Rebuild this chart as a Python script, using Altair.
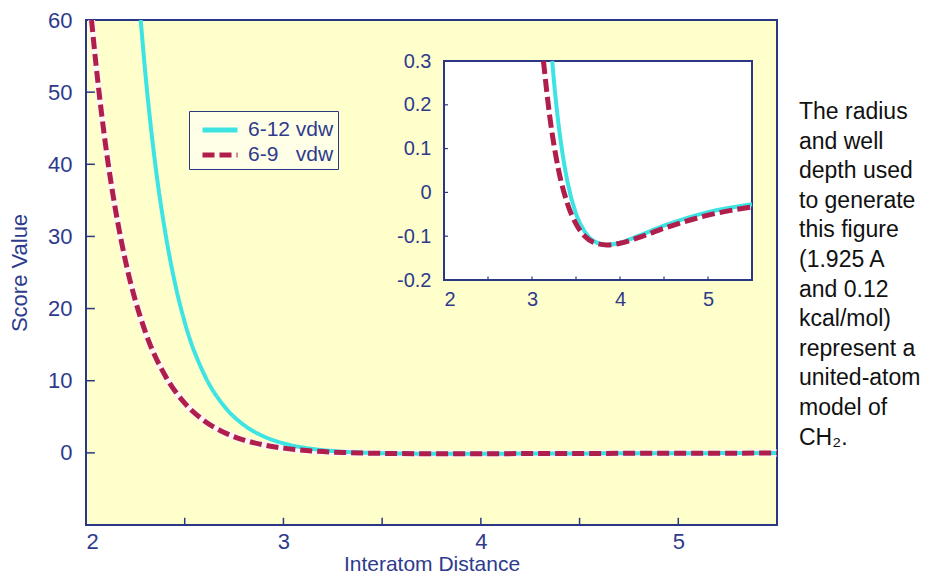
import altair as alt
import pandas as pd

# ---------------- data ----------------
series_names = ["6-12 vdw", "6-9\u00a0\u00a0\u00a0vdw"]

r_612 = [2.277, 2.3, 2.35, 2.4, 2.45, 2.5, 2.6, 2.7, 2.8, 2.9, 3.0, 3.1, 3.2, 3.23,
         3.25, 3.3, 3.4, 3.5, 3.6, 3.7, 3.85, 4.0, 4.2, 4.5, 5.0, 5.5]
e_612 = [60, 52.8, 40.2, 30.8, 23.6, 18.1, 10.8, 6.46, 3.86, 2.28, 1.32, 0.73, 0.376, 0.30,
         0.253, 0.158, 0.027, -0.049, -0.090, -0.111, -0.120, -0.115, -0.100, -0.076, -0.045, -0.027]

r_69 = [2.028, 2.05, 2.1, 2.15, 2.2, 2.3, 2.4, 2.5, 2.6, 2.7, 2.8, 2.9, 3.0, 3.13,
        3.2, 3.3, 3.4, 3.5, 3.6, 3.7, 3.85, 4.0, 4.2, 4.5, 5.0, 5.5]
e_69 = [60, 54.0, 42.5, 33.6, 26.6, 16.8, 10.75, 6.89, 4.42, 2.82, 1.78, 1.10, 0.658, 0.30,
        0.176, 0.053, -0.024, -0.072, -0.100, -0.114, -0.120, -0.116, -0.104, -0.082, -0.052, -0.033]

main_x_domain = [2, 5.5]
main_y_domain = [-10, 60]
main_x_labels = [2, 3, 4, 5]
main_y_labels = [0, 10, 20, 30, 40, 50, 60]
main_x_ticks = [2.5, 3, 3.5, 4, 4.5, 5]
main_y_ticks = [0, 10, 20, 30, 40, 50]

inset_x_domain = [2, 5.5]
inset_y_domain = [-0.2, 0.3]
inset_x_labels = [2, 3, 4, 5]
inset_y_labels = [-0.2, -0.1, 0, 0.1, 0.2, 0.3]
inset_x_ticks = [2.5, 3, 3.5, 4, 4.5, 5]
inset_y_ticks = [-0.1, 0, 0.1, 0.2]

side_note_lines = ["The radius", "and well", "depth used", "to generate", "this figure",
                   "(1.925 A", "and 0.12", "kcal/mol)", "represent a", "united-atom",
                   "model of", "CH\u2082."]

# ---------------- styles ----------------
navy = "#2A3784"
label_color = "#2E3B8C"
bg = "#FFFFCC"
cyan = "#3EE3E3"
maroon = "#B01E4C"
FONT = "Arial"

W, H = 691, 505
inset_x_range = [358, 666]
inset_y_range = [260, 41]

df = pd.DataFrame({
    "r": r_612 + r_69,
    "e": e_612 + e_69,
    "series": [series_names[0]] * len(r_612) + [series_names[1]] * len(r_69),
})

# ---------------- main panel ----------------
main_xs = alt.Scale(domain=main_x_domain, nice=False, zero=False)
main_ys = alt.Scale(domain=main_y_domain, nice=False, zero=False)

main_x_axis = alt.Axis(values=main_x_labels, title="Interatom Distance", ticks=False, domain=False,
                       grid=False, labelFontSize=22, labelColor=label_color, labelFont=FONT,
                       labelPadding=6, titleFontSize=21, titleFontWeight="normal",
                       titleColor=label_color, titleFont=FONT, titlePadding=1, format="d")
main_y_axis = alt.Axis(values=main_y_labels, title="Score Value", ticks=False, domain=False,
                       grid=False, labelFontSize=22, labelColor=label_color, labelFont=FONT,
                       labelPadding=14, titleFontSize=22, titleFontWeight="normal",
                       titleColor=label_color, titleFont=FONT, titlePadding=16, format="d")

MX = alt.X("r:Q", scale=main_xs, axis=main_x_axis)
MY = alt.Y("e:Q", scale=main_ys, axis=main_y_axis)

legend = alt.Legend(title=None, orient="none", legendX=103, legendY=91, fillColor="#FFFFE8",
                    strokeColor=navy, padding=4, labelFontSize=21, labelColor=label_color,
                    labelFont=FONT, symbolType="M-1.4,0L1.4,0", symbolSize=625, symbolStrokeWidth=5,
                    symbolOffset=12, rowPadding=0, labelOffset=13)
COLOR = alt.Color("series:N", scale=alt.Scale(domain=series_names, range=[cyan, maroon]), legend=legend)
DASH = alt.StrokeDash("series:N", scale=alt.Scale(domain=series_names, range=[[1, 0], [12, 5]]), legend=legend)

base = alt.Chart(df)

main_under = base.transform_filter(alt.datum.series == series_names[1]).mark_line(
    color="#FFF4F4", strokeWidth=7, interpolate="monotone", clip=True).encode(x=MX, y=MY)
main_cyan = base.transform_filter(alt.datum.series == series_names[0]).mark_line(
    strokeWidth=4, interpolate="monotone", clip=True).encode(x=MX, y=MY, color=COLOR, strokeDash=DASH)
main_dash = base.transform_filter(alt.datum.series == series_names[1]).mark_line(
    strokeWidth=5, interpolate="monotone", clip=True).encode(x=MX, y=MY, color=COLOR, strokeDash=DASH)

mxt = alt.Chart(pd.DataFrame({"v": main_x_ticks})).mark_rule(color=navy, strokeWidth=1.5).encode(
    x=alt.X("v:Q", scale=main_xs, axis=main_x_axis), y=alt.datum(-10, scale=main_ys), y2=alt.datum(-9))
myt = alt.Chart(pd.DataFrame({"v": main_y_ticks})).mark_rule(color=navy, strokeWidth=1.5).encode(
    y=alt.Y("v:Q", scale=main_ys, axis=main_y_axis), x=alt.datum(2, scale=main_xs), x2=alt.datum(2.045))

note = alt.Chart(pd.DataFrame({"t": ["\n".join(side_note_lines)]})).mark_text(
    align="left", baseline="alphabetic", fontSize=23, font=FONT, color="#111111",
    lineBreak="\n", lineHeight=29.6).encode(x=alt.value(713), y=alt.value(99), text="t:N")

main_layer = alt.layer(main_under, main_cyan, main_dash, mxt, myt, note)

# ---------------- inset panel ----------------
ins_xs = alt.Scale(domain=inset_x_domain, range=inset_x_range, nice=False, zero=False)
ins_ys = alt.Scale(domain=inset_y_domain, range=inset_y_range, nice=False, zero=False)
lab_expr = "datum.value == 0 ? '0' : (datum.value < 0 ? '-' + format(-datum.value, '.1f') : format(datum.value, '.1f'))"
ins_x_axis = alt.Axis(orient="bottom", offset=-(H - inset_y_range[0]), values=inset_x_labels, title=None,
                      ticks=False, domain=False, grid=False, labelFontSize=20, labelColor=label_color,
                      labelFont=FONT, labelPadding=9, format="d")
ins_y_axis = alt.Axis(orient="left", offset=-inset_x_range[0], values=inset_y_labels, title=None,
                      ticks=False, domain=False, grid=False, labelFontSize=20, labelColor=label_color,
                      labelFont=FONT, labelPadding=13, labelExpr=lab_expr)

frame = alt.Chart(pd.DataFrame({"x0": [inset_x_domain[0]], "x1": [inset_x_domain[1]],
                                "y0": [inset_y_domain[0]], "y1": [inset_y_domain[1]]})).mark_rect(
    fill="white", stroke=navy, strokeWidth=2).encode(
    x=alt.X("x0:Q", scale=ins_xs, axis=ins_x_axis), x2="x1:Q",
    y=alt.Y("y0:Q", scale=ins_ys, axis=ins_y_axis), y2="y1:Q")

IX = alt.X("r:Q", scale=ins_xs, axis=ins_x_axis)
IY = alt.Y("e:Q", scale=ins_ys, axis=ins_y_axis)
ins_cyan = base.transform_filter(
    (alt.datum.series == series_names[0]) & (alt.datum.e <= inset_y_domain[1])).mark_line(
    color=cyan, strokeWidth=4, interpolate="monotone").encode(x=IX, y=IY)
ins_dash = base.transform_filter(
    (alt.datum.series == series_names[1]) & (alt.datum.e <= inset_y_domain[1])).mark_line(
    color=maroon, strokeWidth=5, strokeDash=[13, 5], interpolate="monotone").encode(x=IX, y=IY)

ixt = alt.Chart(pd.DataFrame({"v": inset_x_ticks})).mark_rule(color=navy, strokeWidth=1.2).encode(
    x=alt.X("v:Q", scale=ins_xs, axis=ins_x_axis), y=alt.datum(-0.2, scale=ins_ys), y2=alt.datum(-0.192))
iyt = alt.Chart(pd.DataFrame({"v": inset_y_ticks})).mark_rule(color=navy, strokeWidth=1.2).encode(
    y=alt.Y("v:Q", scale=ins_ys, axis=ins_y_axis), x=alt.datum(2, scale=ins_xs), x2=alt.datum(2.045))

inset_layer = alt.layer(frame, ins_cyan, ins_dash, ixt, iyt)

chart = alt.layer(main_layer, inset_layer).resolve_scale(
    x="independent", y="independent"
).properties(
    width=W, height=H,
    autosize=alt.AutoSizeParams(type="none"),
    padding={"left": 78, "top": 12, "right": 158, "bottom": 51},
).configure_view(fill=bg, stroke=navy, strokeWidth=2)

chart.save("out.html", embed_options={"renderer": "svg", "actions": False})
